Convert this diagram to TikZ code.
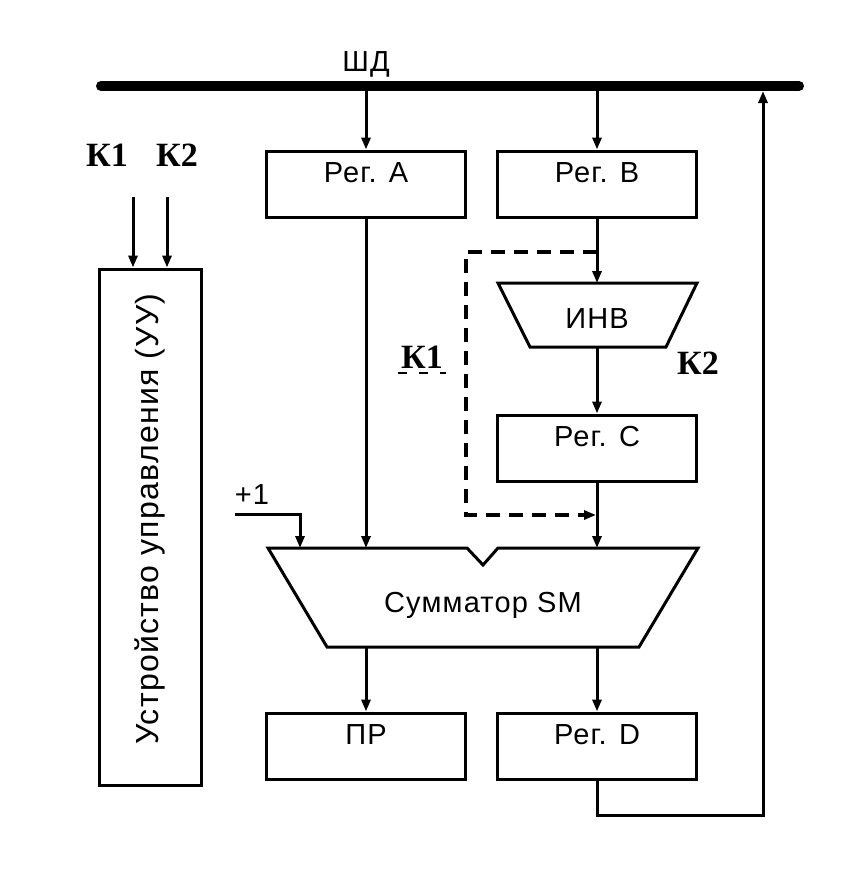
\documentclass[tikz,border=0pt]{standalone}
\usepackage{fontspec}
\setmainfont{Liberation Serif}
\newfontfamily\diagfont[LetterSpace=4]{Liberation Sans}
\usetikzlibrary{arrows.meta}

\begin{document}
\begin{tikzpicture}[
  x=1pt, y=-1pt,
  >={Triangle[length=12pt,width=9pt]},
  line width=3pt,
  reg/.style={draw, minimum width=199pt, inner ysep=4pt, text height=27pt, text depth=31pt, font=\diagfont\fontsize{29}{32}\selectfont},
  lbl/.style={font=\diagfont\fontsize{29}{32}\selectfont},
  sig/.style={font=\bfseries\fontsize{34}{38}\selectfont},
  ctl/.style={line width=4.5pt, dash pattern=on 14pt off 9pt}
]
\useasboundingbox (0,0) rectangle (862,870);

% data bus
\coordinate (busL) at (101,86);
\coordinate (busR) at (799,86);
\draw[line width=10pt, line cap=round] (busL) -- (busR);
\node[lbl] (shd) at (366,64) {ШД};

% registers
\node[reg] (rA) at (366,184) {Рег. А};
\node[reg] (rB) at (597,184) {Рег. В};
\node[reg] (rC) at (597,448) {Рег. С};
\node[reg] (pr) at (366,746) {ПР};
\node[reg] (rD) at (597,746) {Рег. D};

% control unit
\node[draw, minimum width=102pt, minimum height=516pt] (uu) at (150,527) {};
\node[lbl, rotate=90, font=\diagfont\fontsize{32}{34}\selectfont] at ([yshift=8pt]uu.center) {Устройство управления (УУ)};
\node[sig] (k1in) at (107,155) {К1};
\node[sig] (k2in) at (177,155) {К2};
\coordinate (c1) at (133,197);
\coordinate (c2) at (167,197);
\draw[->] (c1) -- (c1 |- uu.north);
\draw[->] (c2) -- (c2 |- uu.north);

% inverter
\coordinate (invtop) at (597,283);
\coordinate (invbot) at (597,347);
\draw (498,283) -- (697,283) -- (666,347) -- (530,347) -- cycle;
\node[lbl] (inv) at (597,319) {ИНВ};
\node[sig] (k2) at (698,363) {К2};

% adder
\coordinate (smtop) at (483,548);
\coordinate (smbot) at (483,647);
\draw (268,548) -- (467,548) -- (483,565) -- (498,548) -- (698,548)
  -- (639,647) -- (327,647) -- cycle;
\node[lbl] (sm) at (483,605) {Сумматор SM};
\node[lbl] (one) at (252,495) {+1};
\coordinate (inc) at (235,514);
\coordinate (incin) at (300,548);

% data paths
\draw[->] (rA |- busL) -- (rA);
\draw[->] (rB |- busL) -- (rB);
\draw[->] (rB) -- (invtop);
\draw[->] (invbot) -- (rC);
\draw[->] (rC) -- (rC |- smtop);
\draw[->] (rA) -- (rA |- smtop);
\draw[->] (inc) -| (incin);
\draw[->] (pr |- smbot) -- (pr);
\draw[->] (rD |- smbot) -- (rD);

% feedback to bus
\coordinate (fb) at (763,815);
\draw[->, shorten >=5pt] (rD) |- (fb) -- (fb |- busR);

% bypass of the inverter
\coordinate (brA) at (597,252);
\coordinate (brB) at (596,515);
\draw[ctl, ->] (brA) -- (466,252) |- (brB);
\node[sig] (k1) at (422,357) {К1};
\draw[line width=1.2pt, dash pattern=on 9pt off 12pt] ([xshift=2pt]k1.south west) -- ([xshift=-2pt]k1.south east);

\end{tikzpicture}
\end{document}
